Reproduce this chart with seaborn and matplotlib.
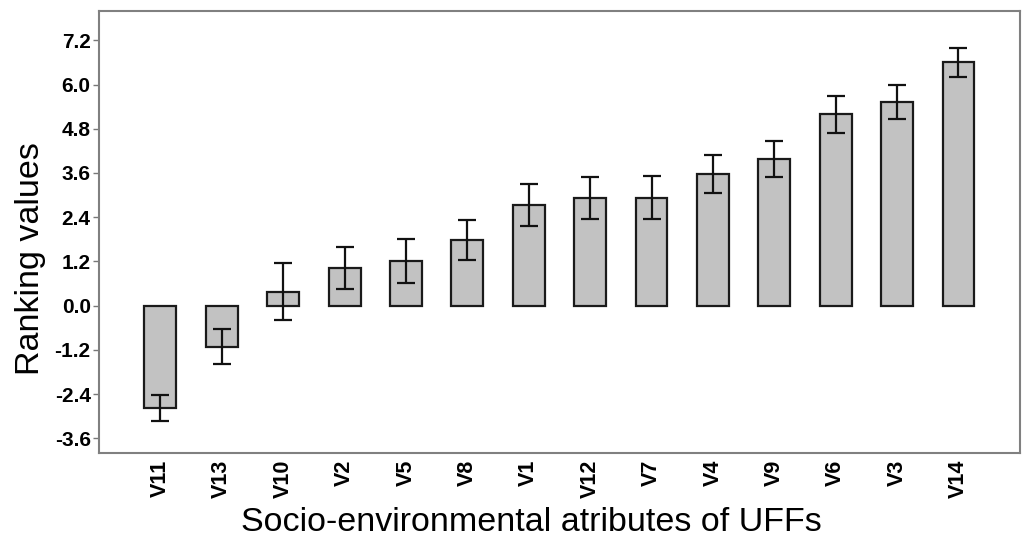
import numpy as np
import pandas as pd
import matplotlib
matplotlib.use("Agg")
import matplotlib.pyplot as plt
import seaborn as sns

# Data
attributes = ["V11", "V13", "V10", "V2", "V5", "V8", "V1", "V12", "V7", "V4", "V9", "V6", "V3", "V14"]
ranking = [-2.78, -1.11, 0.38, 1.03, 1.21, 1.79, 2.74, 2.92, 2.93, 3.58, 3.99, 5.19, 5.53, 6.60]
errors = [0.35, 0.47, 0.77, 0.57, 0.59, 0.54, 0.57, 0.57, 0.58, 0.52, 0.49, 0.50, 0.46, 0.39]
yticks = [-3.6, -2.4, -1.2, 0.0, 1.2, 2.4, 3.6, 4.8, 6.0, 7.2]

df = pd.DataFrame({"Attribute": attributes, "Ranking": ranking, "Error": errors})

sns.set_style("white")
plt.rcParams["font.family"] = ["Liberation Sans", "DejaVu Sans"]
plt.rcParams["text.color"] = "black"
plt.rcParams["axes.labelcolor"] = "black"
plt.rcParams["xtick.color"] = "black"
plt.rcParams["ytick.color"] = "black"

fig = plt.figure(figsize=(10.25, 5.4), dpi=100)
ax = fig.add_axes([0.0966, 0.161, 0.8984, 0.819])

sns.barplot(data=df, x="Attribute", y="Ranking", color="#c2c2c2", saturation=1,
            edgecolor="#1a1a1a", linewidth=1.6, width=0.52, errorbar=None, ax=ax)
ax.errorbar(np.arange(len(df)), df["Ranking"], yerr=df["Error"], fmt="none",
            ecolor="#111111", elinewidth=1.6, capsize=6.5, capthick=1.6)

ax.set_xlim(-1, 14)
ax.set_ylim(-4.0, 8.0)
ax.set_yticks(yticks)
ax.set_yticklabels([f"{t:.1f}" for t in yticks], fontweight="bold", fontsize=15)
ax.tick_params(axis="y", left=True, length=4, width=1, color="#777777",
               labelcolor="black", pad=2)
ax.tick_params(axis="x", bottom=False, labelcolor="black", pad=1)
for lab in ax.get_xticklabels():
    lab.set_rotation(90)
    lab.set_fontweight("bold")
    lab.set_fontsize(15.5)

for sp in ax.spines.values():
    sp.set_visible(True)
    sp.set_color("#808080")
    sp.set_linewidth(1.5)

ax.set_ylabel("Ranking values", fontsize=24.5, labelpad=6)
ax.yaxis.label.set_y(0.44)
ax.set_xlabel("Socio-environmental atributes of UFFs", fontsize=24.5, labelpad=7)
ax.xaxis.label.set_x(0.47)

fig.savefig("out.png", dpi=100)
